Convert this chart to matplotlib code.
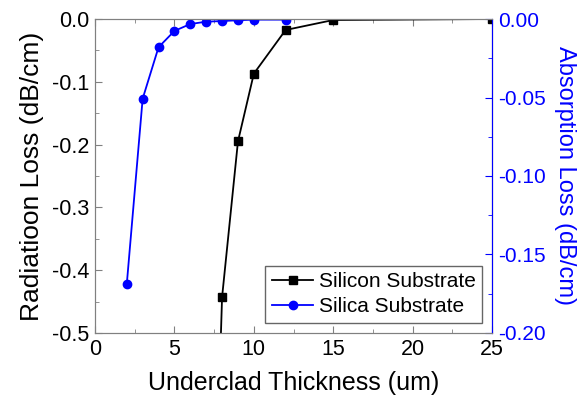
import numpy as np
import matplotlib.pyplot as plt
from matplotlib.ticker import MultipleLocator

plt.rcParams['font.family'] = ['Liberation Sans', 'DejaVu Sans']

# Silicon substrate -> radiation loss (left axis)
x_si = [7, 8, 9, 10, 12, 15, 25]
rad_si = [-1.25, -0.443, -0.195, -0.087, -0.0175, -0.0016, 0.0]

# Silica substrate -> absorption loss (right axis)
x_sio2 = [2, 3, 4, 5, 6, 7, 8, 9, 10, 12]
abs_sio2 = [-0.169, -0.0508, -0.018, -0.0076, -0.0032, -0.0017, -0.0013,
            -0.0008, -0.0004, -0.0004]

fig = plt.figure(figsize=(5.81, 4.01), dpi=100)
ax = fig.add_axes([0.1635, 0.1696, 0.6835, 0.783])
ax2 = ax.twinx()

l1, = ax.plot(x_si, rad_si, 'k-s', lw=1.3, ms=5.5, label='Silicon Substrate')
l2, = ax2.plot(x_sio2, abs_sio2, '-o', color='#0000ff', lw=1.3, ms=6,
               label='Silica Substrate')

ax.set_xlim(0, 25)
ax.set_ylim(-0.5, 0.0)
ax2.set_ylim(-0.2, 0.0)

ax.xaxis.set_major_locator(MultipleLocator(5))
ax.xaxis.set_minor_locator(MultipleLocator(2.5))
ax.yaxis.set_minor_locator(MultipleLocator(0.05))
ax2.yaxis.set_minor_locator(MultipleLocator(0.025))

ax.set_yticks(np.arange(-0.5, 0.01, 0.1))
ax.set_yticklabels(['-0.5', '-0.4', '-0.3', '-0.2', '-0.1', '0.0'])
ax2.set_yticks(np.arange(-0.2, 0.001, 0.05))
ax2.set_yticklabels(['-0.20', '-0.15', '-0.10', '-0.05', '0.00'])

ax.tick_params(which='both', direction='in', top=True, right=False,
               labelsize=15.5, colors='#808080', labelcolor='black', pad=4)
ax.tick_params(which='major', length=5)
ax.tick_params(which='minor', length=3)
ax2.tick_params(which='both', direction='in', colors='#0000ff',
                labelcolor='#0000ff', labelsize=15, pad=4)
ax2.tick_params(which='major', length=5)
ax2.tick_params(which='minor', length=3)

for s in ['left', 'bottom', 'top']:
    ax.spines[s].set_color('#808080')
    ax2.spines[s].set_color('#808080')
ax2.spines['right'].set_color('#0000ff')

ax.set_xlabel('Underclad Thickness (um)', fontsize=18, labelpad=8)
ax.set_ylabel('Radiatioon Loss (dB/cm)', fontsize=19, labelpad=6)
ax2.set_ylabel('Absorption Loss (dB/cm)', fontsize=17, color='#0000ff',
               rotation=270, labelpad=22)

leg = ax2.legend(handles=[l1, l2], loc='lower right', fontsize=15,
                 frameon=True, fancybox=False, borderaxespad=0.5,
                 handlelength=2.0, borderpad=0.3, labelspacing=0.3,
                 handletextpad=0.25)
leg.get_frame().set_edgecolor('#404040')
leg.get_frame().set_linewidth(1.0)

fig.savefig('out.png', dpi=100)
